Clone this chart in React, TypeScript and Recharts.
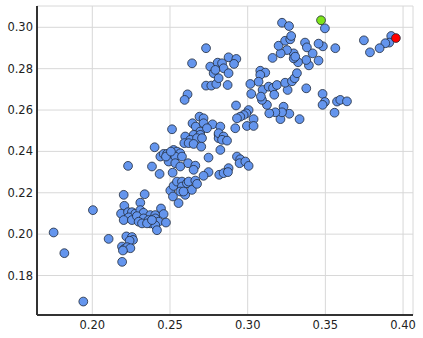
import React from 'react';
import { ScatterChart, Scatter, XAxis, YAxis, CartesianGrid } from 'recharts';

const blueX: number[] = [
  0.2732, 0.2642, 0.2759, 0.2807, 0.2781, 0.2732, 0.2766, 0.2798, 0.2813, 0.2613,
  0.2594, 0.2690, 0.2716, 0.2645, 0.2666, 0.2716, 0.2774, 0.2824, 0.2695, 0.2738,
  0.2513, 0.2652, 0.2695, 0.2598, 0.2631, 0.2674, 0.2706, 0.2592, 0.2620, 0.2652,
  0.2701, 0.2813, 0.2813, 0.2824, 0.2748, 0.2401, 0.2438, 0.2459, 0.2481, 0.2491,
  0.2523, 0.2545, 0.2566, 0.2534, 0.2534, 0.2577, 0.2616, 0.2663, 0.2384, 0.2230,
  0.2474, 0.2506,
  0.3497, 0.3221, 0.3266, 0.3924, 0.3911, 0.3886, 0.3849, 0.3787, 0.3748, 0.3564,
  0.3484, 0.3456, 0.3418, 0.3456, 0.3369, 0.3381, 0.3394, 0.3377, 0.3324, 0.3296,
  0.3296, 0.3306, 0.3253, 0.3212, 0.3199, 0.3241, 0.3274, 0.3280, 0.3160, 0.2877,
  0.2927, 0.2912, 0.2835, 0.2845, 0.2792, 0.2877, 0.2871, 0.3081, 0.3113, 0.3081,
  0.3070, 0.3017, 0.3023, 0.3096, 0.3135, 0.3163, 0.3188, 0.3171, 0.3257, 0.3241,
  0.3285, 0.3302, 0.3317, 0.3377, 0.3482, 0.3497, 0.3482, 0.3575, 0.3596, 0.3639,
  0.3559, 0.3334, 0.3268, 0.3231, 0.3211, 0.3221, 0.3178, 0.3139, 0.3124, 0.3092,
  0.3085, 0.2925, 0.3006, 0.2991, 0.2974, 0.2952, 0.2931, 0.3038, 0.2920, 0.2995,
  0.3038, 0.2813, 0.2845, 0.2835, 0.2867, 0.2931, 0.2952, 0.2948, 0.2985, 0.3006,
  0.2877,
  0.2748, 0.2716, 0.2817, 0.2845, 0.2873,
  0.2433, 0.2517, 0.2652, 0.2502, 0.2519, 0.2523, 0.2545, 0.2555, 0.2577, 0.2577,
  0.2566, 0.2598, 0.2609, 0.2620, 0.2641, 0.2663, 0.2674, 0.2587, 0.2202, 0.2337,
  0.2309, 0.2206, 0.2442, 0.2185, 0.2230, 0.2255, 0.2277, 0.2309, 0.2330, 0.2373,
  0.2405, 0.2459, 0.2234, 0.2202, 0.2255, 0.2287, 0.2330, 0.2298, 0.2320, 0.2362,
  0.2373, 0.2405, 0.2427, 0.2405, 0.2416, 0.2474, 0.2352, 0.2384, 0.2004, 0.1751,
  0.1820, 0.1942, 0.2105, 0.2219, 0.2255, 0.2262, 0.2240, 0.2191, 0.2206, 0.2224,
  0.2245, 0.2197, 0.2192, 0.2566,
];

const blueY: number[] = [
  0.2899, 0.2826, 0.2810, 0.2829, 0.2778, 0.2718, 0.2718, 0.2726, 0.2754, 0.2676,
  0.2649, 0.2568, 0.2560, 0.2536, 0.2520, 0.2536, 0.2531, 0.2520, 0.2496, 0.2512,
  0.2507, 0.2480, 0.2480, 0.2472, 0.2456, 0.2464, 0.2464, 0.2440, 0.2440, 0.2436,
  0.2423, 0.2480, 0.2464, 0.2407, 0.2370, 0.2420, 0.2375, 0.2388, 0.2388, 0.2351,
  0.2407, 0.2399, 0.2391, 0.2375, 0.2343, 0.2375, 0.2343, 0.2331, 0.2327, 0.2330,
  0.2375, 0.2399,
  0.2995, 0.3022, 0.3006, 0.2958, 0.2926, 0.2923, 0.2899, 0.2879, 0.2937, 0.2899,
  0.2908, 0.2921, 0.2874, 0.2839, 0.2926, 0.2903, 0.2816, 0.2842, 0.2831, 0.2874,
  0.2850, 0.2858, 0.2890, 0.2874, 0.2911, 0.2935, 0.2942, 0.2958, 0.2852, 0.2855,
  0.2847, 0.2823, 0.2826, 0.2802, 0.2794, 0.2778, 0.2721, 0.2790, 0.2781, 0.2770,
  0.2737, 0.2726, 0.2678, 0.2697, 0.2713, 0.2707, 0.2721, 0.2674, 0.2697, 0.2732,
  0.2739, 0.2754, 0.2778, 0.2705, 0.2678, 0.2639, 0.2625, 0.2641, 0.2649, 0.2642,
  0.2587, 0.2556, 0.2582, 0.2616, 0.2556, 0.2589, 0.2589, 0.2584, 0.2625, 0.2649,
  0.2665, 0.2622, 0.2600, 0.2584, 0.2576, 0.2568, 0.2560, 0.2556, 0.2512, 0.2523,
  0.2523, 0.2488, 0.2472, 0.2456, 0.2452, 0.2375, 0.2362, 0.2343, 0.2351, 0.2330,
  0.2319,
  0.2300, 0.2282, 0.2287, 0.2295, 0.2300,
  0.2291, 0.2297, 0.2311, 0.2211, 0.2182, 0.2233, 0.2254, 0.2150, 0.2254, 0.2230,
  0.2206, 0.2190, 0.2246, 0.2254, 0.2214, 0.2259, 0.2243, 0.2206, 0.2190, 0.2193,
  0.2152, 0.2137, 0.2124, 0.2099, 0.2106, 0.2106, 0.2099, 0.2116, 0.2103, 0.2092,
  0.2092, 0.2097, 0.2081, 0.2068, 0.2068, 0.2087, 0.2076, 0.2060, 0.2052, 0.2068,
  0.2052, 0.2076, 0.2060, 0.2043, 0.2019, 0.2056, 0.2052, 0.2068, 0.2116, 0.2008,
  0.1908, 0.1674, 0.1977, 0.1989, 0.1986, 0.1972, 0.1968, 0.1940, 0.1928, 0.1937,
  0.1932, 0.1921, 0.1866, 0.2327,
];

const greenX: number[] = [0.3472];
const greenY: number[] = [0.3034];
const redX: number[] = [0.3954];
const redY: number[] = [0.2948];

const xTicks: number[] = [0.2, 0.25, 0.3, 0.35, 0.4];
const yTicks: number[] = [0.18, 0.2, 0.22, 0.24, 0.26, 0.28, 0.3];

const toPoints = (xs: number[], ys: number[]) => xs.map((x, i) => ({ x, y: ys[i] }));
const blueData = toPoints(blueX, blueY);
const greenData = toPoints(greenX, greenY);
const redData = toPoints(redX, redY);

const makeDot = (fill: string) => (props: any) => (
  <circle cx={props.cx} cy={props.cy} r={4.4} fill={fill} stroke="#1f2a3a" strokeWidth={0.8} />
);

const tickStyle = { fontFamily: 'DejaVu Sans', fontSize: 11.5, fill: '#222' };

export default function App() {
  return (
    <div style={{ position: 'absolute', left: 0, top: 0, background: '#fff' }}>
      <ScatterChart width={423} height={338} margin={{ top: 6, right: 10, bottom: 0, left: 0 }}>
        <CartesianGrid stroke="#d8d8d8" strokeWidth={1} />
        <XAxis
          type="number"
          dataKey="x"
          domain={[0.1644, 0.4064]}
          ticks={xTicks}
          tickFormatter={(v: number) => v.toFixed(2)}
          tick={tickStyle}
          tickLine={false}
          tickSize={0}
          tickMargin={6}
          height={23}
          axisLine={{ stroke: '#333', strokeWidth: 2 }}
          allowDataOverflow
        />
        <YAxis
          type="number"
          dataKey="y"
          domain={[0.1609, 0.3103]}
          ticks={yTicks}
          tickFormatter={(v: number) => v.toFixed(2)}
          tick={tickStyle}
          tickLine={false}
          tickSize={0}
          tickMargin={4}
          width={37}
          axisLine={{ stroke: '#333', strokeWidth: 2 }}
          allowDataOverflow
        />
        <Scatter data={blueData} isAnimationActive={false} shape={makeDot('#6495ed')} />
        <Scatter data={greenData} isAnimationActive={false} shape={makeDot('#7fe51a')} />
        <Scatter data={redData} isAnimationActive={false} shape={makeDot('#ff0000')} />
      </ScatterChart>
    </div>
  );
}
